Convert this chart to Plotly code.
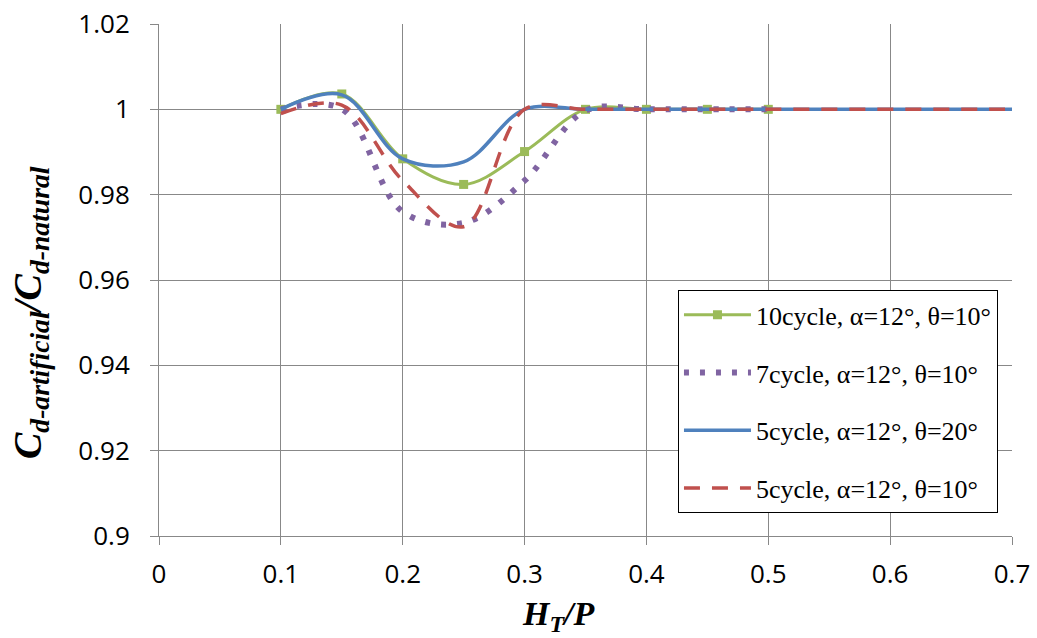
import plotly.graph_objects as go

# ---- data ----
x_green = [0.10, 0.15, 0.20, 0.25, 0.30, 0.35, 0.40, 0.45, 0.50]
y_green = [1.0000, 1.0036, 0.9884, 0.9824, 0.9901, 1.0000, 1.0000, 1.0000, 1.0000]

x_purple = [0.10, 0.15, 0.20, 0.25, 0.30, 0.35, 0.40, 0.45, 0.50]
y_purple = [1.0000, 1.0001, 0.9760, 0.9734, 0.9833, 0.9997, 1.0000, 1.0000, 1.0000]

x_blue = [0.10, 0.15, 0.20, 0.25, 0.30, 0.35, 0.40, 0.45, 0.50, 0.55, 0.60, 0.65, 0.70]
y_blue = [1.0000, 1.0034, 0.9884, 0.9877, 1.0000, 1.0000, 1.0000, 1.0000, 1.0000, 1.0000, 1.0000, 1.0000, 1.0000]

x_red = [0.10, 0.15, 0.20, 0.25, 0.30, 0.35, 0.40, 0.45, 0.50, 0.55, 0.60, 0.65, 0.70]
y_red = [0.9990, 1.0010, 0.9833, 0.9725, 1.0000, 1.0000, 1.0000, 1.0000, 1.0000, 1.0000, 1.0000, 1.0000, 1.0000]

names = ["10cycle, α=12°, θ=10°", "7cycle, α=12°, θ=10°",
         "5cycle, α=12°, θ=20°", "5cycle, α=12°, θ=10°"]

x_tickvals = [0, 0.1, 0.2, 0.3, 0.4, 0.5, 0.6, 0.7]
x_ticktext = ["0", "0.1", "0.2", "0.3", "0.4", "0.5", "0.6", "0.7"]
y_tickvals = [0.9, 0.92, 0.94, 0.96, 0.98, 1.0, 1.02]
y_ticktext = ["0.9", "0.92", "0.94", "0.96", "0.98", "1", "1.02"]

x_title = "<b><i>H<sub>T</sub>/P</i></b>"
y_title = "<b><i>C<sub>d-artificial</sub>/C<sub>d-natural</sub></i></b>"

GREEN, PURPLE, BLUE, RED = "#9BBB59", "#8064A2", "#4F81BD", "#C0504D"
GRID = "#888888"
SMOOTH = 1.0

fig = go.Figure()
fig.add_trace(go.Scatter(
    x=x_green, y=y_green, name=names[0], mode="lines+markers", legendgroup="a",
    line=dict(color=GREEN, width=3, shape="spline", smoothing=SMOOTH),
    marker=dict(symbol="square", size=9, color=GREEN)))
fig.add_trace(go.Scatter(
    x=x_purple, y=y_purple, name=names[1], mode="lines", legendgroup="b",
    line=dict(color=PURPLE, width=6, shape="spline", smoothing=SMOOTH, dash="5px,11px")))
fig.add_trace(go.Scatter(
    x=x_blue, y=y_blue, name=names[2], mode="lines", legendgroup="c",
    line=dict(color=BLUE, width=3.5, shape="spline", smoothing=SMOOTH)))
fig.add_trace(go.Scatter(
    x=x_red, y=y_red, name=names[3], mode="lines", legendgroup="d",
    line=dict(color=RED, width=3.5, shape="spline", smoothing=SMOOTH, dash="16px,12px")))

fig.update_layout(
    width=1037, height=638,
    margin=dict(l=159, r=25, t=24, b=102, autoexpand=False),
    plot_bgcolor="white", paper_bgcolor="white",
    font=dict(family="Open Sans", size=26, color="#000000"),
    showlegend=True,
    legend=dict(
        x=0.6084, y=0.480, xanchor="left", yanchor="top",
        bordercolor="#000000", borderwidth=1, bgcolor="white",
        font=dict(family="Liberation Serif", size=26, color="#000000"),
        tracegroupgap=21, itemwidth=67,
    ),
    xaxis=dict(
        range=[0, 0.7], tickvals=x_tickvals, ticktext=x_ticktext, automargin=False,
        showgrid=True, gridcolor=GRID, gridwidth=1,
        zeroline=False, showline=True, linecolor=GRID, linewidth=1,
        ticks="outside", ticklen=8, tickcolor=GRID, ticklabelstandoff=7,
        tickfont=dict(family="Open Sans", size=26),
    ),
    yaxis=dict(
        range=[0.9, 1.02], tickvals=y_tickvals, ticktext=y_ticktext, automargin=False,
        showgrid=True, gridcolor=GRID, gridwidth=1,
        zeroline=False, showline=True, linecolor=GRID, linewidth=1,
        ticks="outside", ticklen=8, tickcolor=GRID, ticklabelstandoff=15,
        tickfont=dict(family="Open Sans", size=26),
    ),
    annotations=[
        dict(text=x_title, xref="paper", yref="paper", x=0.4672, y=-0.156,
             xanchor="center", yanchor="middle", showarrow=False,
             font=dict(family="Liberation Serif", size=34, color="#000000")),
        dict(text=y_title, xref="paper", yref="paper", x=-0.1512, y=0.4355,
             xanchor="center", yanchor="middle", showarrow=False, textangle=-90,
             font=dict(family="Liberation Serif", size=39.5, color="#000000")),
    ],
)

fig.write_html("out.html")
